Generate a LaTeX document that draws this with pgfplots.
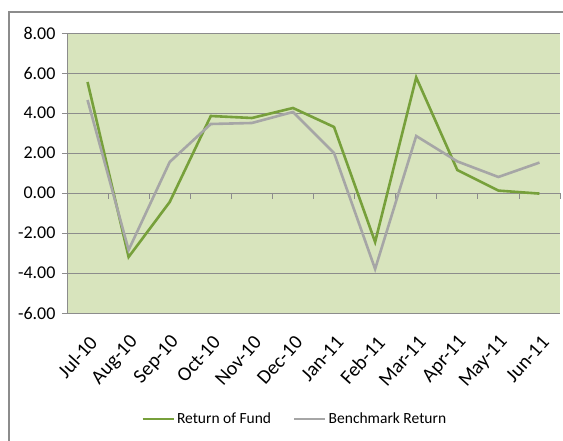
\documentclass[border=0pt]{standalone}
\usepackage{pgfplots}
\pgfplotsset{compat=1.18}
\usepackage{fontspec}
\setmainfont{Carlito}
\definecolor{bgfill}{RGB}{216,228,189}
\definecolor{fundgreen}{RGB}{119,160,59}
\definecolor{benchgray}{RGB}{166,166,166}
\definecolor{gridgray}{RGB}{140,140,140}
\begin{document}
\begin{tikzpicture}[x=1pt,y=1pt]
\useasboundingbox (0,0) rectangle (563,441);
\draw[gridgray, line width=1.2pt] (9,-10) -- (9,429) -- (575,429);
\begin{axis}[
  at={(67pt,128pt)}, anchor=south west,
  scale only axis, width=493pt, height=280pt,
  xmin=-0.5, xmax=11.5, ymin=-6, ymax=8,
  axis background/.style={fill=bgfill},
  axis x line*=bottom,
  x axis line style={draw=none},
  xtick={0,...,11},
  xticklabels={Jul-10,Aug-10,Sep-10,Oct-10,Nov-10,Dec-10,Jan-11,Feb-11,Mar-11,Apr-11,May-11,Jun-11},
  xtick style={draw=none},
  xticklabel style={xshift=6pt, yshift=-21pt, rotate=48, anchor=east, font=\fontsize{20}{22}\selectfont, inner sep=0pt},
  axis y line*=left,
  y axis line style={gridgray, line width=0.8pt, -},
  ytick={-6,-4,...,8},
  ymajorgrids, grid style={gridgray, line width=0.9pt},
  ytick style={gridgray, line width=0.8pt},
  tick align=outside, major tick length=5pt,
  /pgf/number format/.cd, fixed, zerofill, precision=2, assume math mode=true,
  /pgfplots/.cd,
  yticklabel style={font=\fontsize{18}{20}\selectfont, xshift=-3pt},
  legend style={at={(0.462,-0.378)}, anchor=center, draw=none, fill=none,
    legend columns=2, font=\fontsize{15.5}{18}\selectfont,
    /tikz/every even column/.append style={column sep=20pt}},
  legend image code/.code={\draw[#1] (0pt,0pt) -- (31pt,0pt);},
  clip=false,
]
\draw[gridgray, line width=0.9pt] (axis cs:-0.5,0) -- (axis cs:11.5,0);
\pgfplotsinvokeforeach{0.5,1.5,2.5,3.5,4.5,5.5,6.5,7.5,8.5,9.5,10.5,11.5}{
  \draw[gridgray, line width=0.8pt] (axis cs:#1,0) -- ([yshift=-6pt]axis cs:#1,0);
}
\addplot[fundgreen, line width=2.6pt] coordinates {
 (0,5.55) (1,-3.2) (2,-0.45) (3,3.85) (4,3.75) (5,4.25) (6,3.3) (7,-2.45) (8,5.78) (9,1.15) (10,0.12) (11,-0.03)};
\addlegendentry{Return of Fund}
\addplot[benchgray, line width=2.6pt] coordinates {
 (0,4.65) (1,-2.85) (2,1.55) (3,3.45) (4,3.5) (5,4.05) (6,2.0) (7,-3.8) (8,2.85) (9,1.58) (10,0.8) (11,1.52)};
\addlegendentry{Benchmark Return}
\end{axis}
\end{tikzpicture}
\end{document}
